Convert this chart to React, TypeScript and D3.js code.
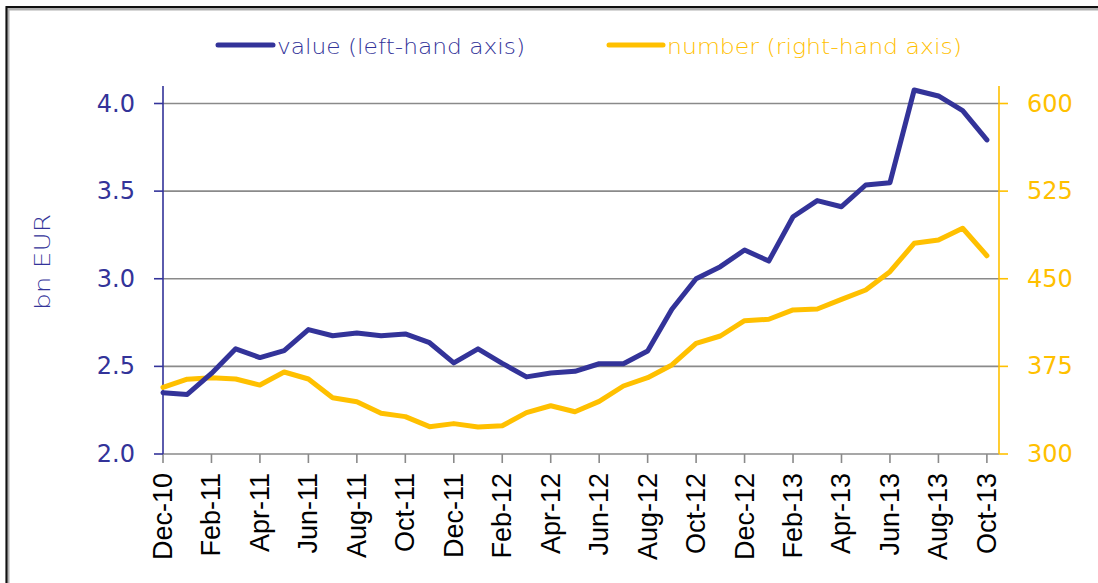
import { useMemo } from 'react';
import * as d3 from 'd3';

// months Dec-10 .. Oct-13
const months = [
  'Dec-10', 'Jan-11', 'Feb-11', 'Mar-11', 'Apr-11', 'May-11', 'Jun-11', 'Jul-11', 'Aug-11',
  'Sep-11', 'Oct-11', 'Nov-11', 'Dec-11', 'Jan-12', 'Feb-12', 'Mar-12', 'Apr-12', 'May-12',
  'Jun-12', 'Jul-12', 'Aug-12', 'Sep-12', 'Oct-12', 'Nov-12', 'Dec-12', 'Jan-13', 'Feb-13',
  'Mar-13', 'Apr-13', 'May-13', 'Jun-13', 'Jul-13', 'Aug-13', 'Sep-13', 'Oct-13',
];

// value, bn EUR (left-hand axis)
const valueSeries = [
  2.35, 2.34, 2.46, 2.6, 2.55, 2.59, 2.71, 2.675, 2.69, 2.675, 2.685, 2.635, 2.52, 2.6,
  2.517, 2.44, 2.462, 2.472, 2.515, 2.515, 2.588, 2.826, 3.0, 3.069, 3.164, 3.101, 3.354,
  3.446, 3.411, 3.535, 3.548, 4.077, 4.043, 3.959, 3.792,
];

// number (right-hand axis)
const numberSeries = [
  357, 364, 365.3, 364.2, 359, 370.2, 364.2, 348.2, 344.8, 334.8, 332, 323.4, 326, 323.1,
  324.2, 335.4, 341.3, 336.2, 345, 358.2, 365.3, 376.2, 394.7, 401, 414.1, 415.3, 423.3,
  424.1, 432.4, 440.4, 456, 480.3, 483.2, 493.2, 469.7,
];

const leftTicks = [2.0, 2.5, 3.0, 3.5, 4.0];
const rightTicks = [300, 375, 450, 525, 600];

const BLUE = '#333399';
const GOLD = '#FFC000';
const GRID = '#8a8a8a';

const W = 1098;
const H = 583;
const plot = { left: 163, right: 999, top: 86, bottom: 454 };

export default function App() {
  const x = useMemo(
    () => d3.scaleLinear().domain([0, months.length - 0.5]).range([plot.left, plot.right]),
    [],
  );
  const yL = d3.scaleLinear().domain([2, 4]).range([plot.bottom, 103.5]);
  const yR = d3.scaleLinear().domain([300, 600]).range([plot.bottom, 103.5]);

  const lineL = d3.line<number>().x((_, i) => x(i)).y((d) => yL(d));
  const lineR = d3.line<number>().x((_, i) => x(i)).y((d) => yR(d));

  const labelIdx = months.map((_, i) => i).filter((i) => i % 2 === 0);

  return (
    <svg
      width={W}
      height={H}
      viewBox={`0 0 ${W} ${H}`}
      style={{ position: 'absolute', left: 0, top: 0, background: '#fff' }}
      fontFamily="DejaVu Sans"
    >
      {/* frame */}
      <path d={`M7.5,${H} V8.5 H${W}`} fill="none" stroke="#b0b0b0" strokeWidth={4} />
      <path d={`M6.5,${H} V7 H${W}`} fill="none" stroke="#111" strokeWidth={2} />

      {/* legend */}
      <line x1={218} x2={273} y1={45} y2={45} stroke={BLUE} strokeWidth={5} strokeLinecap="round" />
      <text x={277} y={54} fontSize={21} fill={BLUE} fontWeight={300} textLength={248} lengthAdjust="spacingAndGlyphs">
        value (left-hand axis)
      </text>
      <line x1={609} x2={663} y1={45} y2={45} stroke={GOLD} strokeWidth={5} strokeLinecap="round" />
      <text x={667} y={54} fontSize={21} fill={GOLD} fontWeight={300} textLength={295} lengthAdjust="spacingAndGlyphs">
        number (right-hand axis)
      </text>

      {/* gridlines */}
      {leftTicks.slice(1).map((t) => (
        <line key={t} x1={plot.left} x2={plot.right} y1={yL(t)} y2={yL(t)} stroke={GRID} strokeWidth={1.6} />
      ))}

      {/* x axis */}
      <line x1={plot.left} x2={plot.right} y1={plot.bottom} y2={plot.bottom} stroke={GRID} strokeWidth={1.6} />
      {labelIdx.map((i) => (
        <g key={months[i]}>
          <line x1={x(i)} x2={x(i)} y1={plot.bottom} y2={plot.bottom + 9} stroke={GRID} strokeWidth={1.6} />
          <text
            transform={`translate(${x(i)},473) rotate(-90)`}
            textAnchor="end"
            dominantBaseline="central"
            fontSize={27}
            fontFamily="Liberation Sans"
            fill="#000"
          >
            {months[i]}
          </text>
        </g>
      ))}

      {/* left axis */}
      <line x1={plot.left} x2={plot.left} y1={plot.top} y2={plot.bottom} stroke={BLUE} strokeWidth={1.6} />
      {leftTicks.map((t) => (
        <g key={t}>
          <line x1={plot.left - 9} x2={plot.left} y1={yL(t)} y2={yL(t)} stroke={BLUE} strokeWidth={1.6} />
          <text x={135} y={yL(t)} textAnchor="end" dominantBaseline="central" fontSize={24} fill={BLUE}>
            {d3.format('.1f')(t)}
          </text>
        </g>
      ))}
      <text
        transform="translate(42,262) rotate(-90)"
        textAnchor="middle"
        dominantBaseline="central"
        fontSize={22}
        fill={BLUE}
        fontWeight={300}
        textLength={96}
        lengthAdjust="spacingAndGlyphs"
      >
        bn EUR
      </text>

      {/* right axis */}
      <line x1={plot.right} x2={plot.right} y1={plot.top} y2={plot.bottom} stroke={GOLD} strokeWidth={1.6} />
      {rightTicks.map((t) => (
        <g key={t}>
          <line x1={plot.right} x2={plot.right + 9} y1={yR(t)} y2={yR(t)} stroke={GOLD} strokeWidth={1.6} />
          <text x={1027} y={yR(t)} textAnchor="start" dominantBaseline="central" fontSize={24} fill={GOLD}>
            {t}
          </text>
        </g>
      ))}

      {/* series */}
      <path d={lineR(numberSeries) ?? ''} fill="none" stroke={GOLD} strokeWidth={5} strokeLinejoin="round" strokeLinecap="round" />
      <path d={lineL(valueSeries) ?? ''} fill="none" stroke={BLUE} strokeWidth={5} strokeLinejoin="round" strokeLinecap="round" />
    </svg>
  );
}
